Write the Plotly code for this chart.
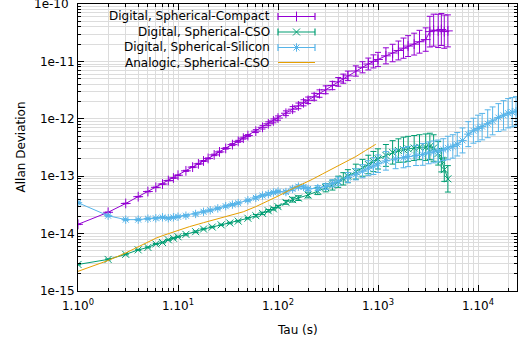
import plotly.graph_objects as go

# ---------------- data ----------------
tau_compact = [1, 2, 3, 4, 5, 6, 7, 8, 9, 10,
               12, 14, 16, 18, 20, 23, 26, 30, 35, 40, 45, 50,
               60, 70, 80, 90, 100, 120, 140, 160, 180, 200,
               230, 260, 300, 350, 400, 450, 500,
               600, 700, 800, 900, 1000, 1200, 1400, 1600, 1800, 2000,
               2300, 2600, 3000, 3300, 3600, 4000, 4300, 4600, 5000]
adev_compact = [1.45e-14, 2.35e-14, 3.35e-14, 4.4e-14, 5.4e-14, 6.4e-14, 7.3e-14, 8.4e-14, 9.3e-14, 1.04e-13,
                1.24e-13, 1.44e-13, 1.64e-13, 1.84e-13, 2.04e-13, 2.35e-13, 2.65e-13, 3.05e-13, 3.55e-13, 4.05e-13, 4.6e-13, 5.1e-13,
                6.1e-13, 7.1e-13, 8.2e-13, 9.2e-13, 1.03e-12, 1.25e-12, 1.47e-12, 1.68e-12, 1.9e-12, 2.1e-12,
                2.42e-12, 2.75e-12, 3.2e-12, 3.8e-12, 4.4e-12, 5.0e-12, 5.6e-12,
                6.8e-12, 7.9e-12, 9.0e-12, 1.0e-11, 1.08e-11, 1.25e-11, 1.4e-11, 1.55e-11, 1.7e-11, 1.85e-11,
                2.0e-11, 2.2e-11, 2.4e-11, 3.3e-11, 3.5e-11, 3.4e-11, 3.6e-11, 3.3e-11, 3.4e-11]
errfac_compact = [1.01, 1.01, 1.01, 1.01, 1.01, 1.01, 1.01, 1.01, 1.01, 1.01,
                  1.02, 1.02, 1.02, 1.02, 1.02, 1.03, 1.03, 1.03, 1.04, 1.04, 1.04, 1.04,
                  1.06, 1.07, 1.08, 1.08, 1.09, 1.10, 1.11, 1.12, 1.13, 1.14,
                  1.15, 1.16, 1.17, 1.18, 1.19, 1.20, 1.21,
                  1.23, 1.25, 1.27, 1.30, 1.33, 1.38, 1.42, 1.46, 1.50, 1.52,
                  1.55, 1.58, 1.60, 1.85, 1.90, 1.95, 1.90, 1.95, 1.90]

tau_cso = [1, 2, 3, 4, 5, 6, 7, 8, 9, 10,
           12, 15, 18, 22, 27, 33, 40, 50,
           60, 70, 80, 90, 100, 120, 140, 160, 200,
           250, 300, 350, 400, 450, 500,
           600, 700, 800, 900, 1000, 1200, 1400, 1600, 1800, 2000,
           2300, 2600, 3000, 3300, 3600, 4000, 4300, 4600, 5000]
adev_cso = [2.9e-15, 3.55e-15, 4.35e-15, 5.2e-15, 5.75e-15, 6.6e-15, 7.0e-15, 7.8e-15, 8.3e-15, 8.8e-15,
            9.7e-15, 1.08e-14, 1.2e-14, 1.3e-14, 1.42e-14, 1.53e-14, 1.65e-14, 1.85e-14,
            2.05e-14, 2.25e-14, 2.5e-14, 2.7e-14, 2.95e-14, 3.5e-14, 3.9e-14, 4.15e-14, 4.7e-14,
            5.5e-14, 6.3e-14, 7.0e-14, 8.0e-14, 9.0e-14, 1.0e-13,
            1.2e-13, 1.4e-13, 1.6e-13, 1.8e-13, 2.0e-13, 2.3e-13, 2.6e-13, 2.8e-13, 2.9e-13, 3.0e-13,
            3.1e-13, 3.2e-13, 3.2e-13, 3.3e-13, 3.1e-13, 2.5e-13, 1.9e-13, 1.3e-13, 9.0e-14]
errfac_cso = [1.02, 1.02, 1.02, 1.02, 1.02, 1.02, 1.02, 1.02, 1.02, 1.02,
              1.03, 1.03, 1.03, 1.03, 1.03, 1.03, 1.03, 1.03,
              1.05, 1.05, 1.05, 1.05, 1.05, 1.08, 1.10, 1.10, 1.12,
              1.15, 1.18, 1.22, 1.25, 1.28, 1.30,
              1.35, 1.40, 1.45, 1.50, 1.50, 1.55, 1.60, 1.60, 1.65, 1.65,
              1.65, 1.65, 1.70, 1.70, 1.70, 1.60, 1.60, 1.60, 1.70]

tau_si = [1, 2, 3, 4, 5, 6, 7, 8, 9, 10,
          12, 15, 18, 21, 25, 30, 35, 40, 50,
          60, 70, 80, 90, 100, 120, 140, 160, 180, 200,
          250, 300, 350, 400, 500, 600, 700, 800, 900, 1000,
          1200, 1500, 1800, 2000, 2400, 2800, 3200, 3600, 4000,
          4500, 5000, 5600, 6200, 7000, 8000, 9000, 10000,
          11000, 12500, 14000, 16000, 18000, 20000, 22000, 24000]
adev_si = [3.45e-14, 2.05e-14, 1.75e-14, 1.75e-14, 1.82e-14, 1.85e-14, 1.92e-14, 1.85e-14, 1.92e-14, 1.97e-14,
           2.05e-14, 2.2e-14, 2.4e-14, 2.55e-14, 2.75e-14, 3.0e-14, 3.2e-14, 3.4e-14, 3.8e-14,
           4.2e-14, 4.6e-14, 4.9e-14, 5.2e-14, 5.4e-14, 5.3e-14, 6.0e-14, 6.6e-14, 6.5e-14, 6.0e-14,
           6.2e-14, 6.6e-14, 7.5e-14, 8.2e-14, 9.5e-14, 1.08e-13, 1.22e-13, 1.38e-13, 1.5e-13, 1.65e-13,
           1.85e-13, 2.0e-13, 2.1e-13, 2.2e-13, 2.3e-13, 2.4e-13, 2.55e-13, 2.65e-13, 2.75e-13,
           2.9e-13, 3.1e-13, 3.3e-13, 3.6e-13, 4.2e-13, 5.4e-13, 6.2e-13, 6.8e-13,
           7.3e-13, 8.2e-13, 9.2e-13, 1.05e-12, 1.15e-12, 1.25e-12, 1.3e-12, 1.35e-12]
errfac_si = [1.03, 1.03, 1.03, 1.03, 1.03, 1.03, 1.03, 1.03, 1.03, 1.03,
             1.04, 1.04, 1.04, 1.04, 1.04, 1.04, 1.04, 1.04, 1.04,
             1.05, 1.05, 1.05, 1.05, 1.05, 1.07, 1.07, 1.07, 1.07, 1.07,
             1.10, 1.12, 1.15, 1.18, 1.22, 1.25, 1.30, 1.35, 1.40, 1.42,
             1.45, 1.48, 1.50, 1.50, 1.50, 1.55, 1.55, 1.55, 1.55,
             1.55, 1.60, 1.60, 1.60, 1.65, 1.65, 1.65, 1.70,
             1.70, 1.75, 1.75, 1.75, 1.80, 1.80, 1.80, 1.80]

tau_analog = [1, 1.5, 2, 3, 4, 5, 6, 7, 8, 10, 13, 18, 25, 35, 45, 60, 75, 100,
              130, 170, 220, 280, 350, 450, 600, 750, 950]
adev_analog = [2.2e-15, 2.8e-15, 3.4e-15, 4.6e-15, 5.9e-15, 7.2e-15, 8.3e-15, 9.2e-15, 1.0e-14, 1.15e-14,
               1.32e-14, 1.55e-14, 1.8e-14, 2.08e-14, 2.4e-14, 2.95e-14, 3.5e-14, 4.5e-14,
               5.7e-14, 7.0e-14, 8.8e-14, 1.1e-13, 1.35e-13, 1.7e-13, 2.2e-13, 2.8e-13, 3.6e-13]

series_names = ["Digital, Spherical-Compact", "Digital, Spherical-CSO",
                "Digital, Spherical-Silicon", "Analogic, Spherical-CSO"]
x_tick_vals = [1, 10, 100, 1000, 10000]
x_tick_text = ["1.10<sup>0</sup>", "1.10<sup>1</sup>", "1.10<sup>2</sup>", "1.10<sup>3</sup>", "1.10<sup>4</sup>"]
y_tick_vals = [1e-15, 1e-14, 1e-13, 1e-12, 1e-11, 1e-10]
y_tick_text = ["1e-15", "1e-14", "1e-13", "1e-12", "1e-11", "1e-10"]

# ---------------- styling ----------------
PURPLE, GREEN, BLUE, ORANGE = "#9400d3", "#009e73", "#56b4e9", "#e69f00"
FONT = "DejaVu Sans"
GRID = "#dcdcdc"
W, H = 518, 341
L, R, T, B = 78, 1, 4, 50
PW, PH = W - L - R, H - T - B


def px2x(px):
    return (px - L) / PW


def py2y(py):
    return (T + PH - py) / PH


def bars(vals, fac):
    up = [v * (f - 1) for v, f in zip(vals, fac)]
    dn = [v * (1 - 1 / f) for v, f in zip(vals, fac)]
    return up, dn


fig = go.Figure()

specs = [
    (tau_compact, adev_compact, errfac_compact, PURPLE, "cross-thin-open"),
    (tau_cso, adev_cso, errfac_cso, GREEN, "x-thin-open"),
    (tau_si, adev_si, errfac_si, BLUE, "asterisk-open"),
]
for (tau, val, fac, color, sym), name in zip(specs, series_names[:3]):
    up, dn = bars(val, fac)
    fig.add_trace(go.Scatter(
        x=tau, y=val, mode="lines+markers", name=name, showlegend=False,
        line=dict(color=color, width=1),
        marker=dict(symbol=sym, size=7, color=color, line=dict(color=color, width=1)),
        error_y=dict(type="data", symmetric=False, array=up, arrayminus=dn,
                     color=color, thickness=1, width=3),
    ))
fig.add_trace(go.Scatter(x=tau_analog, y=adev_analog, mode="lines", name=series_names[3],
                         showlegend=False, line=dict(color=ORANGE, width=1)))

# minor tick positions
x_minor = [k * 10 ** n for n in range(0, 5) for k in range(2, 10)]
y_minor = [k * 10.0 ** n for n in range(-15, -10) for k in range(2, 10)]

fig.update_xaxes(
    type="log", range=[0, 4.39], tickmode="array", tickvals=x_tick_vals, ticktext=x_tick_text,
    ticks="inside", ticklen=6, tickcolor="black", tickwidth=1, ticklabelstandoff=4,
    showline=True, linecolor="black", linewidth=1, mirror="ticks",
    showgrid=True, gridcolor=GRID, gridwidth=1, zeroline=False,
    tickfont=dict(family=FONT, size=12, color="black"),
    minor=dict(tickmode="array", tickvals=x_minor, ticks="inside", ticklen=3,
               tickcolor="black", showgrid=True, gridcolor=GRID, gridwidth=1),
)
fig.update_yaxes(
    type="log", range=[-15, -10], tickmode="array", tickvals=y_tick_vals, ticktext=y_tick_text,
    ticks="inside", ticklen=6, tickcolor="black", tickwidth=1,
    showline=True, linecolor="black", linewidth=1, mirror="ticks",
    showgrid=True, gridcolor=GRID, gridwidth=1, zeroline=False,
    tickfont=dict(family=FONT, size=12, color="black"),
    minor=dict(tickmode="array", tickvals=y_minor, ticks="inside", ticklen=3,
               tickcolor="black", showgrid=True, gridcolor=GRID, gridwidth=1),
)

# overlay axes in pixel units for the legend key markers
fig.update_layout(
    xaxis2=dict(overlaying="x", range=[L, W - R], visible=False, fixedrange=True),
    yaxis2=dict(overlaying="y", range=[T + PH, T], visible=False, fixedrange=True),
)

shapes = [dict(type="rect", xref="paper", yref="paper", x0=px2x(80), x1=px2x(320),
               y0=py2y(70), y1=py2y(6), fillcolor="white", line=dict(width=0), layer="between")]
annotations = []
rows = [16.5, 32, 47.5, 62.5]
colors = [PURPLE, GREEN, BLUE, ORANGE]
syms = ["cross-thin-open", "x-thin-open", "asterisk-open", None]
kx0, kx1 = 278, 315
for name, ry, c, s in zip(series_names, rows, colors, syms):
    annotations.append(dict(text=name, x=px2x(272), y=py2y(ry), xref="paper", yref="paper",
                            xanchor="right", yanchor="middle", showarrow=False,
                            font=dict(family=FONT, size=12, color="black")))
    shapes.append(dict(type="line", xref="paper", yref="paper", x0=px2x(kx0), x1=px2x(kx1),
                       y0=py2y(ry), y1=py2y(ry), line=dict(color=c, width=1.2)))
    if s is not None:
        for kx in (kx0, kx1):
            shapes.append(dict(type="line", xref="paper", yref="paper", x0=px2x(kx), x1=px2x(kx),
                               y0=py2y(ry - 3.5), y1=py2y(ry + 3.5), line=dict(color=c, width=1.2)))
        fig.add_trace(go.Scatter(x=[(kx0 + kx1) / 2], y=[ry], xaxis="x2", yaxis="y2", mode="markers",
                                 showlegend=False, hoverinfo="skip",
                                 marker=dict(symbol=s, size=7, color=c, line=dict(color=c, width=1))))

# top tick label (Plotly hides it because it overflows the page edge)
annotations.append(dict(text=y_tick_text[-1], x=px2x(71), y=py2y(T), xref="paper", yref="paper",
                        xanchor="right", yanchor="middle", showarrow=False,
                        font=dict(family=FONT, size=12, color="black")))
annotations.append(dict(text="Allan Deviation", x=px2x(20), y=py2y(147.5), xref="paper", yref="paper",
                        textangle=-90, showarrow=False, xanchor="center", yanchor="middle",
                        font=dict(family=FONT, size=12, color="black")))
annotations.append(dict(text="Tau (s)", x=px2x(297), y=py2y(330), xref="paper", yref="paper",
                        showarrow=False, xanchor="center", yanchor="middle",
                        font=dict(family=FONT, size=12, color="black")))

fig.update_layout(
    width=W, height=H, margin=dict(l=L, r=R, t=T, b=B, autoexpand=False),
    paper_bgcolor="white", plot_bgcolor="white",
    font=dict(family=FONT, size=12, color="black"),
    shapes=shapes, annotations=annotations, showlegend=False,
)

fig.write_html("out.html", config={"displayModeBar": False},
               post_script="document.body.style.margin='0';document.body.style.overflow='hidden';")
